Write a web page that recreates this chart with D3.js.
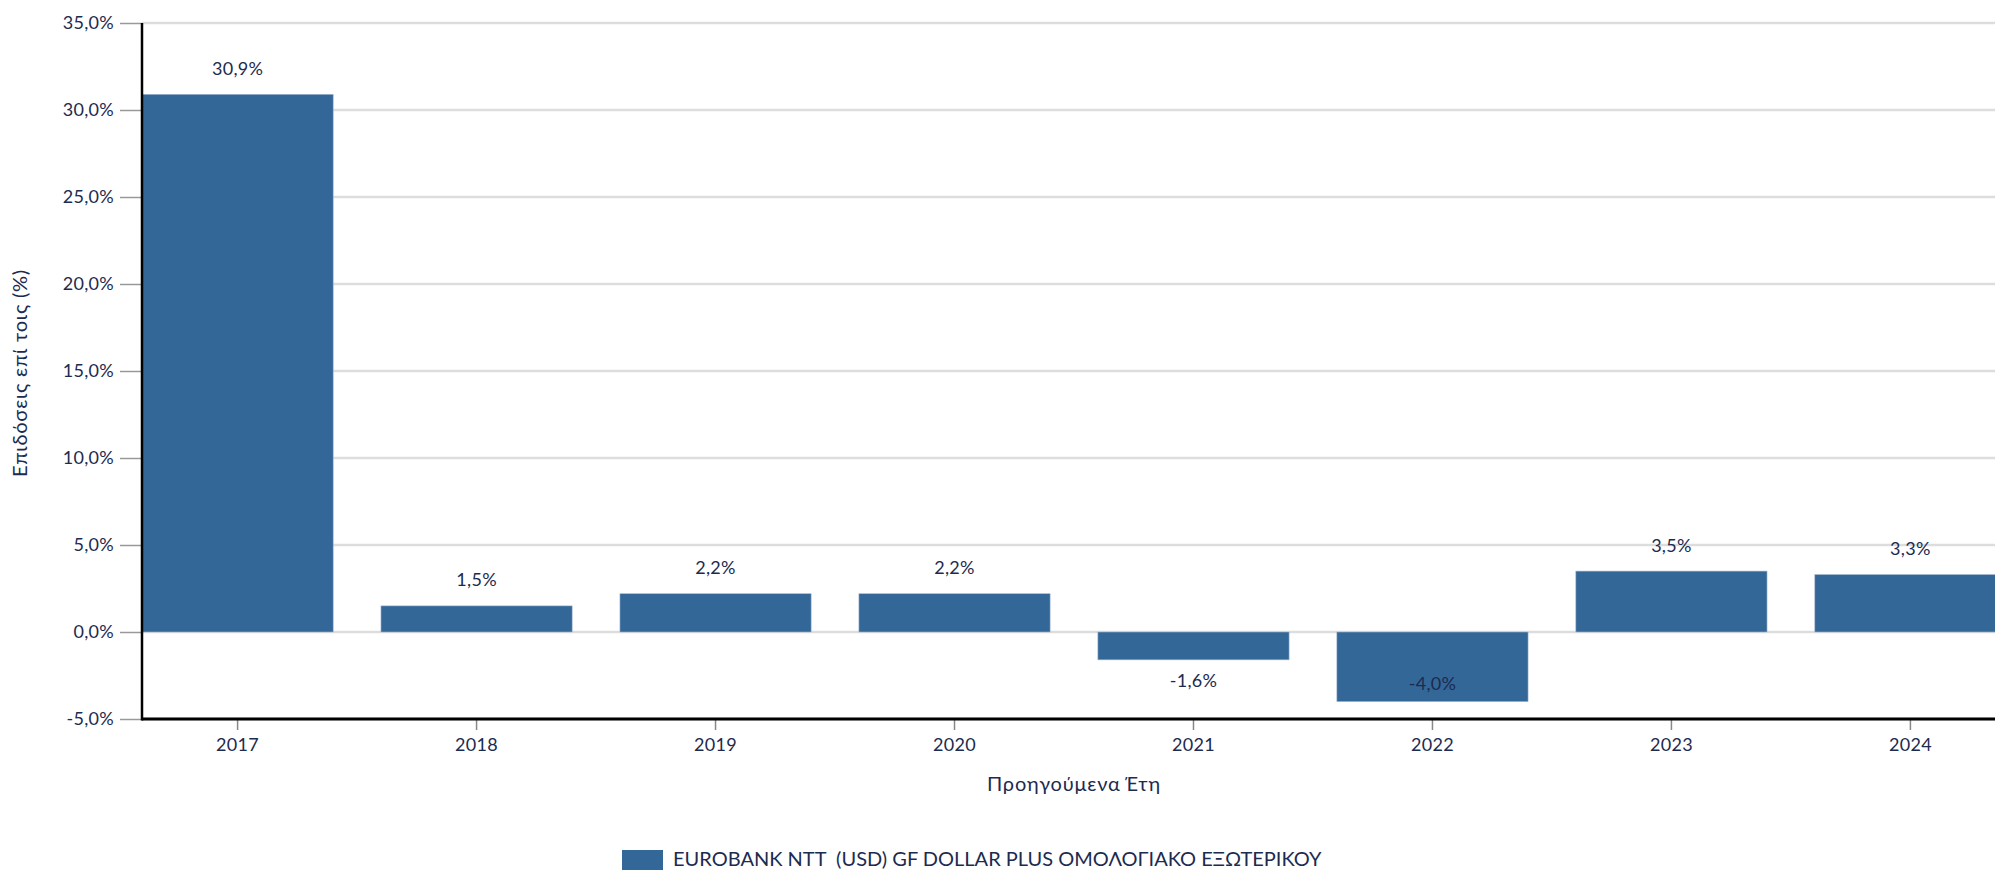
<!DOCTYPE html>
<html>
<head>
<meta charset="utf-8">
<script src="https://cdn.jsdelivr.net/npm/d3@7"></script>
<style>
  body { margin: 0; background: #fff; overflow: hidden; }
  svg { display: block; font-family: Lato, "Noto Sans", sans-serif; }
  text { white-space: pre; }
</style>
</head>
<body>
<svg width="1995" height="870"></svg>
<script>
const years = ["2017", "2018", "2019", "2020", "2021", "2022", "2023", "2024"];
const returns = [30.9, 1.5, 2.2, 2.2, -1.6, -4.0, 3.5, 3.3];
const yTicks = [35, 30, 25, 20, 15, 10, 5, 0, -5];
const seriesName = "EUROBANK NTT  (USD) GF DOLLAR PLUS ΟΜΟΛΟΓΙΑΚΟ ΕΞΩΤΕΡΙΚΟΥ";
const yTitle = "Επιδόσεις επί τοις (%)";
const xTitle = "Προηγούμενα Έτη";

const txt = "#1c2b4f", barCol = "#336798";
let sv = d3.select("svg");
const mL = 142, mR = 2006, mT = 23, mB = 719;

let x = d3.scaleBand().domain(years).range([mL, mR]).paddingInner(0.2).paddingOuter(0);
let y = d3.scaleLinear().domain([-5, 35]).range([mB, mT]);
const fmt = v => v.toFixed(1).replace(".", ",") + "%";

// grid
sv.append("g").selectAll("line").data(yTicks).enter().append("line")
    .attr("x1", mL).attr("x2", 1995)
    .attr("y1", d => y(d)).attr("y2", d => y(d))
    .attr("stroke", "#dddddd").attr("stroke-width", 2.5);

// y axis
let ya = sv.append("g").attr("transform", `translate(${mL},0)`)
    .call(d3.axisLeft(y).tickValues(yTicks).tickSize(22).tickPadding(6).tickFormat(fmt));
ya.select(".domain").remove();
ya.selectAll(".tick line").attr("stroke", "#999").attr("stroke-width", 1.5);
ya.selectAll(".tick text").attr("fill", txt).style("font-size", "18px").style("letter-spacing", "0.3px")
    .style("font-family", "Lato, sans-serif");

// bars
sv.append("g").selectAll("rect").data(years).enter().append("rect")
    .attr("x", d => x(d))
    .attr("width", x.bandwidth())
    .attr("y", (d, i) => y(Math.max(0, returns[i])))
    .attr("height", (d, i) => Math.abs(y(returns[i]) - y(0)))
    .attr("fill", barCol)
    .attr("stroke", "#9fb6d0").attr("stroke-width", 0.6);

// bar labels
sv.append("g").selectAll("text").data(years).enter().append("text")
    .attr("x", d => x(d) + x.bandwidth() / 2)
    .attr("y", (d, i) => returns[i] >= 0 ? y(returns[i]) - 24 : Math.min(y(returns[i]) + 23, mB - 34))
    .attr("text-anchor", "middle").attr("dominant-baseline", "middle")
    .attr("fill", txt).style("font-size", "18px").style("letter-spacing", "0.3px")
    .text((d, i) => fmt(returns[i]));

// x axis
let xa = sv.append("g").attr("transform", `translate(0,${mB})`)
    .call(d3.axisBottom(x).tickSize(11).tickPadding(8));
xa.select(".domain").remove();
xa.selectAll(".tick line").attr("stroke", "#888").attr("stroke-width", 1.5);
xa.selectAll(".tick text").attr("fill", txt).style("font-size", "18px").style("letter-spacing", "0.3px")
    .style("font-family", "Lato, sans-serif");

sv.append("line").attr("x1", mL).attr("x2", 1995).attr("y1", mB).attr("y2", mB)
    .attr("stroke", "#000").attr("stroke-width", 3);
sv.append("line").attr("x1", mL).attr("x2", mL).attr("y1", mT).attr("y2", mB + 1.5)
    .attr("stroke", "#000").attr("stroke-width", 2.5);

// titles
sv.append("text").attr("transform", `translate(22,${(mT + mB) / 2 + 2}) rotate(-90)`)
    .attr("text-anchor", "middle").attr("dominant-baseline", "middle")
    .attr("fill", txt).style("font-size", "20px").style("letter-spacing", "0.8px").text(yTitle);
sv.append("text").attr("x", 1074).attr("y", 786)
    .attr("text-anchor", "middle").attr("dominant-baseline", "middle")
    .attr("fill", txt).style("font-size", "20px").style("letter-spacing", "0.8px").text(xTitle);

// legend
sv.append("rect").attr("x", 622).attr("y", 850).attr("width", 41).attr("height", 22).attr("fill", barCol);
sv.append("text").attr("x", 673).attr("y", 861)
    .attr("dominant-baseline", "middle")
    .attr("fill", txt).style("font-size", "20px").text(seriesName);
</script>
</body>
</html>
